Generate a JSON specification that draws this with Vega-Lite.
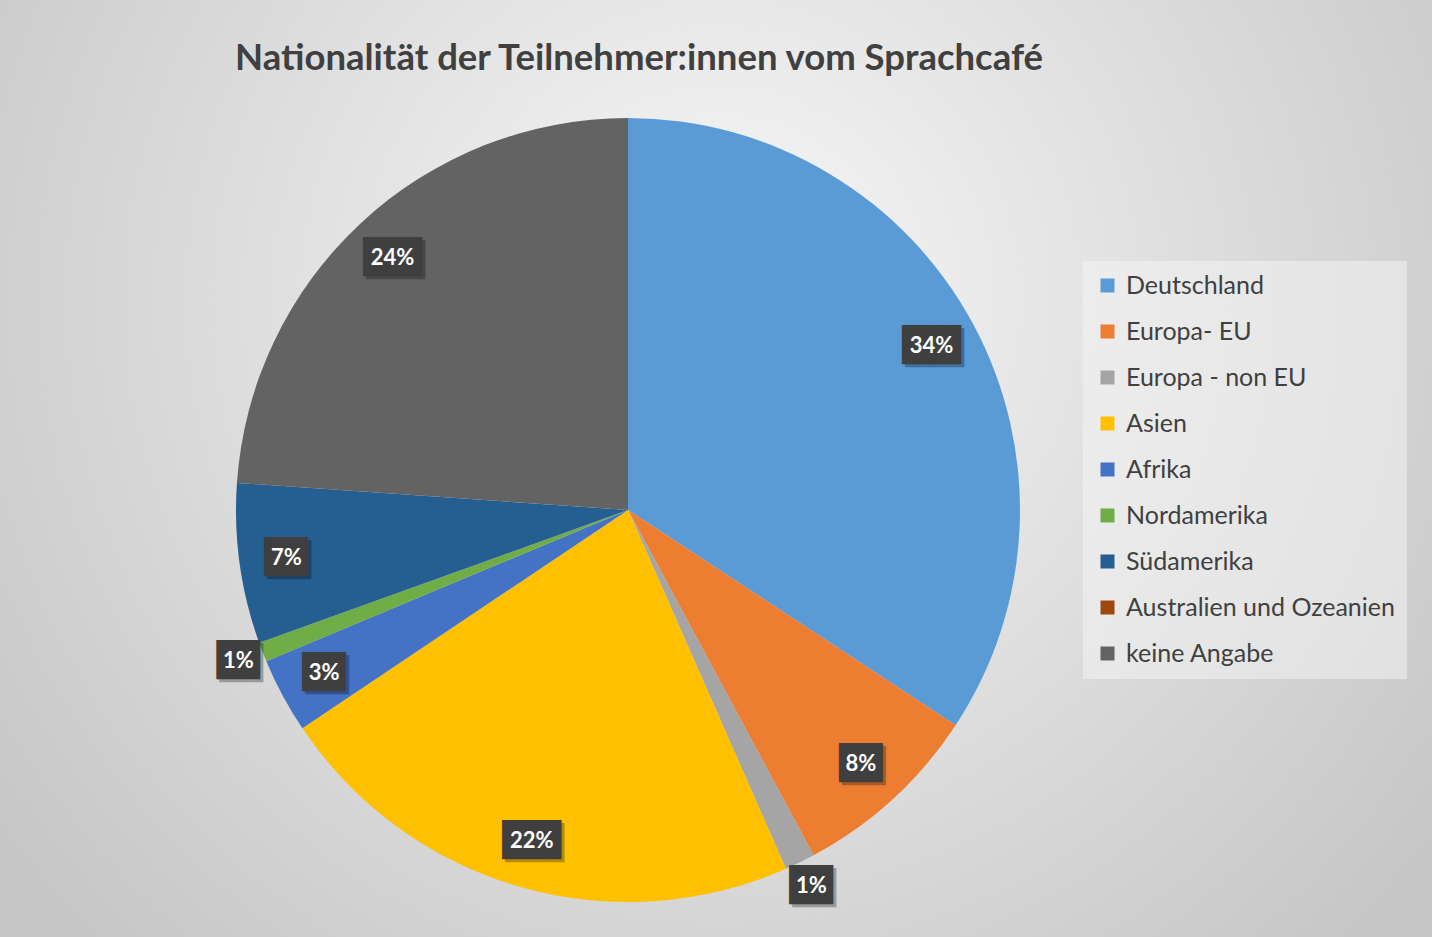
{
  "$schema": "https://vega.github.io/schema/vega-lite/v6.json",
  "width": 784,
  "height": 784,
  "autosize": {"type": "none"},
  "padding": {"left": 236, "top": 118, "right": 412, "bottom": 35},
  "background": "#d8d8d8",
  "title": {
    "text": "Nationalität der Teilnehmer:innen vom Sprachcafé",
    "font": "Lato",
    "fontSize": 36.5,
    "fontWeight": "bold",
    "color": "#404040",
    "anchor": "middle",
    "frame": "group",
    "dx": 11,
    "offset": -667
  },
  "config": {
    "view": {"stroke": null},
    "legend": {
      "orient": "none",
      "legendX": 847,
      "legendY": 143,
      "padding": 12,
      "fillColor": "rgba(245,245,245,0.5)",
      "labelFont": "Lato",
      "labelFontSize": 25,
      "labelColor": "#404040",
      "labelOffset": 6,
      "labelLimit": 400,
      "rowPadding": 20,
      "symbolType": "square",
      "symbolSize": 196,
      "symbolStrokeWidth": 0
    }
  },
  "datasets": {
    "anteile": [
      {"nr": 1, "kategorie": "Deutschland", "anteil": 0.3425},
      {"nr": 2, "kategorie": "Europa- EU", "anteil": 0.079},
      {"nr": 3, "kategorie": "Europa - non EU", "anteil": 0.0125},
      {"nr": 4, "kategorie": "Asien", "anteil": 0.222},
      {"nr": 5, "kategorie": "Afrika", "anteil": 0.031},
      {"nr": 6, "kategorie": "Nordamerika", "anteil": 0.008},
      {"nr": 7, "kategorie": "Südamerika", "anteil": 0.066},
      {"nr": 8, "kategorie": "Australien und Ozeanien", "anteil": 0},
      {"nr": 9, "kategorie": "keine Angabe", "anteil": 0.239}
    ]
  },
  "layer": [
    {
      "data": {"values": [{"flaeche": "Hintergrund"}]},
      "mark": {
        "type": "arc",
        "theta": 0,
        "theta2": 6.2832,
        "outerRadius": 1100,
        "fill": {
          "gradient": "radial",
          "x1": 0.5418, "y1": 0.4045, "r1": 0,
          "x2": 0.5418, "y2": 0.4045, "r2": 0.409,
          "stops": [
            {"offset": 0, "color": "#f8f8f8"},
            {"offset": 1, "color": "#c6c6c6"}
          ]
        }
      },
      "encoding": {}
    },
    {
      "data": {"name": "anteile"},
      "mark": {"type": "arc", "outerRadius": 392},
      "encoding": {
        "theta": {"field": "anteil", "type": "quantitative", "stack": true},
        "order": {"field": "nr", "type": "quantitative"},
        "color": {
          "field": "kategorie",
          "type": "nominal",
          "title": null,
          "scale": {
            "domain": ["Deutschland", "Europa- EU", "Europa - non EU", "Asien", "Afrika", "Nordamerika", "Südamerika", "Australien und Ozeanien", "keine Angabe"],
            "range": ["#5B9BD5", "#ED7D31", "#A5A5A5", "#FFC000", "#4472C4", "#70AD47", "#255E91", "#9E480E", "#636363"]
          }
        }
      }
    },
    {
      "data": {"name": "anteile"},
      "mark": {"type": "text", "radius": 345, "font": "DejaVu Sans Mono", "fontSize": 33, "align": "center", "baseline": "middle", "color": "#000000", "opacity": 0.28, "dx": 3, "dy": 3},
      "encoding": {
        "theta": {"field": "anteil", "type": "quantitative", "stack": true},
        "order": {"field": "nr", "type": "quantitative"},
        "detail": {"field": "kategorie", "type": "nominal"},
        "text": {
          "condition": [
            {"test": "datum.anteil >= 0.095", "value": "▐██▌"},
            {"test": "datum.anteil >= 0.02", "value": "▕██▏"}
          ],
          "value": ""
        }
      }
    },
    {
      "data": {"name": "anteile"},
      "mark": {"type": "text", "radius": 345, "font": "DejaVu Sans Mono", "fontSize": 33, "align": "center", "baseline": "middle", "color": "#3f3f3f"},
      "encoding": {
        "theta": {"field": "anteil", "type": "quantitative", "stack": true},
        "order": {"field": "nr", "type": "quantitative"},
        "detail": {"field": "kategorie", "type": "nominal"},
        "text": {
          "condition": [
            {"test": "datum.anteil >= 0.095", "value": "▐██▌"},
            {"test": "datum.anteil >= 0.02", "value": "▕██▏"}
          ],
          "value": ""
        }
      }
    },
    {
      "data": {"name": "anteile"},
      "mark": {"type": "text", "radius": 345, "font": "Lato", "fontSize": 22, "fontWeight": "bold", "align": "center", "baseline": "middle", "color": "#ffffff"},
      "encoding": {
        "theta": {"field": "anteil", "type": "quantitative", "stack": true},
        "order": {"field": "nr", "type": "quantitative"},
        "detail": {"field": "kategorie", "type": "nominal"},
        "text": {
          "condition": {"test": "datum.anteil < 0.02", "value": ""},
          "field": "anteil",
          "type": "quantitative",
          "format": ".0%"
        }
      }
    },
    {
      "data": {"name": "anteile"},
      "mark": {"type": "text", "radius": 418, "font": "DejaVu Sans Mono", "fontSize": 33, "align": "center", "baseline": "middle", "color": "#000000", "opacity": 0.28, "dx": 3, "dy": 3},
      "encoding": {
        "theta": {"field": "anteil", "type": "quantitative", "stack": true},
        "order": {"field": "nr", "type": "quantitative"},
        "detail": {"field": "kategorie", "type": "nominal"},
        "text": {
          "condition": {"test": "datum.anteil >= 0.02 || datum.anteil <= 0", "value": ""},
          "value": "▕██▏"
        }
      }
    },
    {
      "data": {"name": "anteile"},
      "mark": {"type": "text", "radius": 418, "font": "DejaVu Sans Mono", "fontSize": 33, "align": "center", "baseline": "middle", "color": "#3f3f3f"},
      "encoding": {
        "theta": {"field": "anteil", "type": "quantitative", "stack": true},
        "order": {"field": "nr", "type": "quantitative"},
        "detail": {"field": "kategorie", "type": "nominal"},
        "text": {
          "condition": {"test": "datum.anteil >= 0.02 || datum.anteil <= 0", "value": ""},
          "value": "▕██▏"
        }
      }
    },
    {
      "data": {"name": "anteile"},
      "mark": {"type": "text", "radius": 418, "font": "Lato", "fontSize": 22, "fontWeight": "bold", "align": "center", "baseline": "middle", "color": "#ffffff"},
      "encoding": {
        "theta": {"field": "anteil", "type": "quantitative", "stack": true},
        "order": {"field": "nr", "type": "quantitative"},
        "detail": {"field": "kategorie", "type": "nominal"},
        "text": {
          "condition": {"test": "datum.anteil >= 0.02 || datum.anteil <= 0", "value": ""},
          "field": "anteil",
          "type": "quantitative",
          "format": ".0%"
        }
      }
    }
  ]
}
